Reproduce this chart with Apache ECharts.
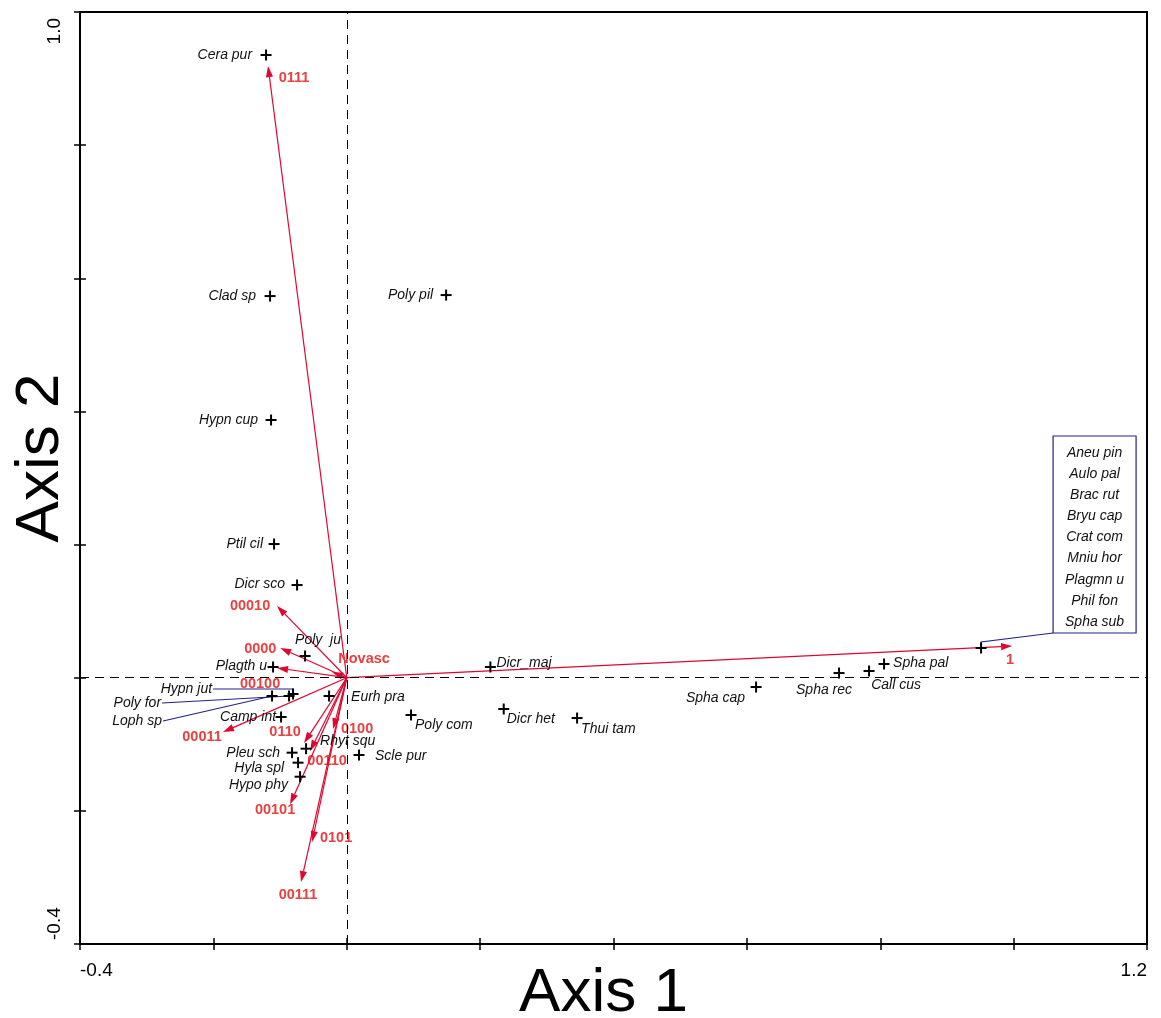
<!DOCTYPE html>
<html>
<head>
<meta charset="utf-8">
<title>Axis 1 / Axis 2 biplot</title>
<script src="https://cdn.jsdelivr.net/npm/echarts@6/dist/echarts.min.js"></script>
<style>
  html, body { margin: 0; padding: 0; background: #ffffff; }
  #chart { width: 1161px; height: 1018px; }
</style>
</head>
<body>
<div id="chart"></div>
<script>
// ---- species scores ----
const speciesNames = [
  'Cera pur', 'Clad sp', 'Poly pil', 'Hypn cup', 'Ptil cil', 'Dicr sco', 'Poly  ju', 'Plagth u',
  'Hypn jut', 'Poly for', 'Loph sp', 'Eurh pra', 'Camp int', 'Pleu sch', 'Rhyt squ', 'Hyla spl',
  'Hypo phy', 'Scle pur', 'Poly com', 'Dicr_maj', 'Dicr het', 'Thui tam', 'Spha cap', 'Spha rec',
  'Call cus', 'Spha pal'
];
const speciesX = [
  -0.121, -0.115, 0.149, -0.1135, -0.109, -0.0745, -0.0625, -0.1105,
  -0.0805, -0.0865, -0.112, -0.0265, -0.0985, -0.082, -0.061, -0.073,
  -0.070, 0.0184, 0.0964, 0.2154, 0.2354, 0.3454, 0.6138, 0.7382,
  0.7832, 0.8057
];
const speciesY = [
  0.9354, 0.5733, 0.5748, 0.3871, 0.2008, 0.1392, 0.0326, 0.0161,
  -0.0245, -0.0275, -0.0275, -0.0275, -0.059, -0.1126, -0.1066, -0.1276,
  -0.1487, -0.1161, -0.056, 0.0161, -0.047, -0.0606, -0.014, 0.007,
  0.0101, 0.0206
];

// species sharing one score, listed in a box
const groupNames = ['Aneu pin', 'Aulo pal', 'Brac rut', 'Bryu cap', 'Crat com', 'Mniu hor', 'Plagmn u', 'Phil fon', 'Spha sub'];
const groupX = [0.9512];
const groupY = [0.0446];

// ---- environmental vectors ----
const vectorNames = ['0111', '00010', '0000', '00100', 'Novasc', '1', '00011', '0110', '00110', '0100', '00101', '0101', '00111'];
const vectorX = [-0.118, -0.1045, -0.0997, -0.1045, -0.022, 0.9977, -0.1855, -0.064, -0.055, -0.0205, -0.085, -0.052, -0.0685];
const vectorY = [0.9188, 0.1077, 0.0446, 0.0146, 0.0086, 0.0476, -0.0816, -0.0981, -0.1101, -0.0771, -0.1900, -0.2468, -0.3069];

// ---- axes ----
const xTickValues = [-0.4, 1.2];
const xTickLabels = ['-0.4', '1.2'];
const yTickValues = [-0.4, 1.0];
const yTickLabels = ['-0.4', '1.0'];

// ---- label placement (pixel offsets from the mark) ----
const speciesLabelLayout = [
  { dx: -14, dy: 0, align: 'right' },   // Cera pur
  { dx: -14, dy: 0, align: 'right' },   // Clad sp
  { dx: -13, dy: 0, align: 'right' },   // Poly pil
  { dx: -13, dy: 0, align: 'right' },   // Hypn cup
  { dx: -11, dy: 0, align: 'right' },   // Ptil cil
  { dx: -12, dy: -1, align: 'right' },  // Dicr sco
  { dx: -10, dy: -16, align: 'left' },  // Poly ju
  { dx: -6, dy: -1, align: 'right' },   // Plagth u
  { dx: -81, dy: -5, align: 'right', leader: [[-80, -5], [0, -5], [0, 0]] },   // Hypn jut
  { dx: -128, dy: 7, align: 'right', leader: [[-127, 7], [0, 0]] },           // Poly for
  { dx: -110, dy: 25, align: 'right', leader: [[-109, 25], [0, 0]] },         // Loph sp
  { dx: 22, dy: 1, align: 'left' },     // Eurh pra
  { dx: -5, dy: 0, align: 'right' },    // Camp int
  { dx: -12, dy: 0, align: 'right' },   // Pleu sch
  { dx: 14, dy: -8, align: 'left' },    // Rhyt squ
  { dx: -14, dy: 5, align: 'right' },   // Hyla spl
  { dx: -12, dy: 8, align: 'right' },   // Hypo phy
  { dx: 16, dy: 1, align: 'left' },     // Scle pur
  { dx: 4, dy: 10, align: 'left' },     // Poly com
  { dx: 6, dy: -4, align: 'left' },     // Dicr_maj
  { dx: 3, dy: 10, align: 'left' },     // Dicr het
  { dx: 4, dy: 11, align: 'left' },     // Thui tam
  { dx: -11, dy: 11, align: 'right' },  // Spha cap
  { dx: -15, dy: 17, align: 'center' }, // Spha rec
  { dx: 27, dy: 14, align: 'center' },  // Call cus
  { dx: 9, dy: -1, align: 'left' }      // Spha pal
];
const vectorLabelLayout = [
  [26, 12], [-27, 0], [-20, 1], [-17, 16], [32, -13], [-2, 14], [-21, 5],
  [-19, -11], [17, 10], [24, 0], [-15, 6], [24, -4], [-3, 13]
];

const FONT = '"Liberation Sans", Arial, sans-serif';
const VECTOR_LINE = '#e0062f';
const VECTOR_TEXT = '#e8413f';
const LEADER = '#22228c';

const chart = echarts.init(document.getElementById('chart'), null, { renderer: 'canvas' });

function plusMark(p) {
  return [
    { type: 'line', shape: { x1: p[0] - 5.5, y1: p[1], x2: p[0] + 5.5, y2: p[1] }, style: { stroke: '#000', lineWidth: 2 } },
    { type: 'line', shape: { x1: p[0], y1: p[1] - 5.5, x2: p[0], y2: p[1] + 5.5 }, style: { stroke: '#000', lineWidth: 2 } }
  ];
}

function renderSpecies(params, api) {
  const i = params.dataIndex;
  const p = api.coord([api.value(0), api.value(1)]);
  const L = speciesLabelLayout[i];
  const children = [];
  if (L.leader) {
    children.push({
      type: 'polyline',
      shape: { points: L.leader.map(o => [p[0] + o[0], p[1] + o[1]]) },
      style: { stroke: LEADER, lineWidth: 1.2, fill: null }
    });
  }
  children.push(...plusMark(p));
  children.push({
    type: 'text', x: p[0] + L.dx, y: p[1] + L.dy,
    style: { text: speciesNames[i], font: 'italic 14px ' + FONT, fill: '#111', align: L.align, verticalAlign: 'middle' }
  });
  return { type: 'group', children };
}

function renderGroup(params, api) {
  const p = api.coord([api.value(0), api.value(1)]);
  const bx = p[0] + 72, by = p[1] - 212, bw = 83, bh = 197;
  const children = [
    { type: 'polyline', shape: { points: [[bx, by + bh], [p[0], p[1] - 6], [p[0], p[1]]] }, style: { stroke: LEADER, lineWidth: 1.2, fill: null } },
    { type: 'rect', shape: { x: bx, y: by, width: bw, height: bh }, style: { stroke: LEADER, lineWidth: 1.2, fill: '#fff' } }
  ];
  children.push(...plusMark(p));
  groupNames.forEach((n, k) => {
    children.push({
      type: 'text', x: bx + bw / 2, y: by + 17 + k * 21.1,
      style: { text: n, font: 'italic 14px ' + FONT, fill: '#111', align: 'center', verticalAlign: 'middle' }
    });
  });
  return { type: 'group', children };
}

function renderVector(params, api) {
  const i = params.dataIndex;
  const o = api.coord([0, 0]);
  const t = api.coord([api.value(0), api.value(1)]);
  const dx = t[0] - o[0], dy = t[1] - o[1];
  const len = Math.sqrt(dx * dx + dy * dy) || 1;
  const ux = dx / len, uy = dy / len;
  const hl = 11, hw = 3.6;
  const bx = t[0] - ux * hl, by = t[1] - uy * hl;
  const off = vectorLabelLayout[i];
  return {
    type: 'group',
    children: [
      { type: 'line', shape: { x1: o[0], y1: o[1], x2: bx, y2: by }, style: { stroke: VECTOR_LINE, lineWidth: 1.2 } },
      { type: 'polygon', shape: { points: [[t[0], t[1]], [bx - uy * hw, by + ux * hw], [bx + uy * hw, by - ux * hw]] }, style: { fill: VECTOR_LINE } },
      { type: 'text', x: t[0] + off[0], y: t[1] + off[1],
        style: { text: vectorNames[i], font: 'bold 14.5px ' + FONT, fill: VECTOR_TEXT, align: 'center', verticalAlign: 'middle' } }
    ]
  };
}

const commonScaleX = { type: 'value', min: -0.4, max: 1.2, interval: 0.2 };
const commonScaleY = { type: 'value', min: -0.4, max: 1.0, interval: 0.2 };

chart.setOption({
  animation: false,
  backgroundColor: '#ffffff',
  grid: {
    left: 80, top: 12, width: 1067, height: 932,
    outerBoundsMode: 'none', containLabel: false,
    show: true, borderColor: '#000', borderWidth: 2, backgroundColor: 'transparent'
  },
  xAxis: [
    Object.assign({}, commonScaleX, {
      position: 'bottom',
      name: 'Axis 1', nameLocation: 'middle', nameGap: 19,
      nameTextStyle: { fontSize: 62, fontFamily: FONT, color: '#000', padding: [0, 20, 0, 0] },
      axisLine: { show: true, onZero: false, lineStyle: { color: '#000', width: 2 } },
      axisTick: { show: true, inside: false, length: 6, lineStyle: { color: '#000', width: 1.5 } },
      axisLabel: { show: false },
      splitLine: { show: false }
    }),
    Object.assign({}, commonScaleX, {
      position: 'bottom',
      axisLine: { show: false, onZero: false },
      axisTick: { show: true, inside: true, length: 6, lineStyle: { color: '#000', width: 1.5 } },
      axisLabel: { show: false },
      splitLine: { show: false }
    })
  ],
  yAxis: [
    Object.assign({}, commonScaleY, {
      position: 'left',
      name: 'Axis 2', nameLocation: 'middle', nameGap: 8, nameRotate: 90,
      nameTextStyle: { fontSize: 62, fontFamily: FONT, color: '#000', padding: [0, 0, 0, 40] },
      axisLine: { show: true, onZero: false, lineStyle: { color: '#000', width: 2 } },
      axisTick: { show: true, inside: false, length: 6, lineStyle: { color: '#000', width: 1.5 } },
      axisLabel: { show: false },
      splitLine: { show: false }
    }),
    Object.assign({}, commonScaleY, {
      position: 'left',
      axisLine: { show: false, onZero: false },
      axisTick: { show: true, inside: true, length: 6, lineStyle: { color: '#000', width: 1.5 } },
      axisLabel: { show: false },
      splitLine: { show: false }
    })
  ],
  series: [
    {
      type: 'custom', name: 'origin lines', data: [], renderItem: () => null, silent: true,
      markLine: {
        silent: true, symbol: 'none', animation: false, label: { show: false },
        lineStyle: { color: '#000', width: 1, type: [9, 6] },
        data: [{ xAxis: 0 }, { yAxis: 0 }]
      }
    },
    {
      type: 'custom', name: 'vectors', silent: true,
      data: vectorX.map((x, i) => [x, vectorY[i]]),
      renderItem: renderVector, clip: false, z: 3
    },
    {
      type: 'custom', name: 'species', silent: true,
      data: speciesX.map((x, i) => [x, speciesY[i]]),
      renderItem: renderSpecies, clip: false, z: 4
    },
    {
      type: 'custom', name: 'group', silent: true,
      data: groupX.map((x, i) => [x, groupY[i]]),
      renderItem: renderGroup, clip: false, z: 5
    }
  ]
});

// end labels of both axes, placed through the axis scales
const tickText = [];
xTickValues.forEach((v, k) => {
  const px = chart.convertToPixel({ xAxisIndex: 0 }, v);
  tickText.push({
    type: 'text', x: px, y: 971,
    style: { text: xTickLabels[k], font: '19px ' + FONT, fill: '#000', align: k === 0 ? 'left' : 'right', verticalAlign: 'middle' }
  });
});
yTickValues.forEach((v, k) => {
  const py = chart.convertToPixel({ yAxisIndex: 0 }, v);
  tickText.push({
    type: 'text', x: 55, y: k === 0 ? py - 4 : py + 6, rotation: Math.PI / 2,
    style: { text: yTickLabels[k], font: '19px ' + FONT, fill: '#000', align: k === 0 ? 'left' : 'right', verticalAlign: 'middle' }
  });
});
chart.setOption({ graphic: tickText });
</script>
</body>
</html>
